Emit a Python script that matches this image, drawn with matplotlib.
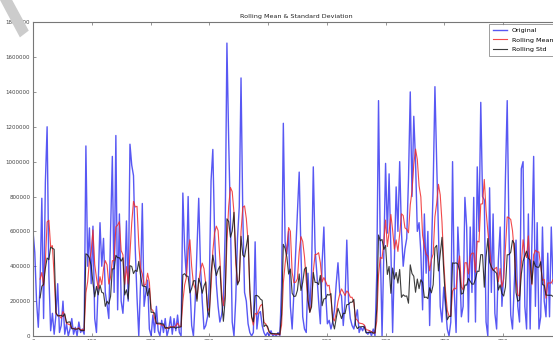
import numpy as np
import pandas as pd
import matplotlib
matplotlib.use("Agg")
import matplotlib.pyplot as plt
from matplotlib.patches import Polygon

# Original series (values in thousands), one value every 3 index units
original_k = [
    600, 480, 200, 50, 300, 790, 100, 880, 1200, 350,
    30, 130, 10, 120, 300, 20, 60, 200, 10, 70,
    0, 40, 100, 10, 50, 0, 80, 20, 40, 10,
    1090, 400, 620, 300, 630, 100, 20, 300, 650, 400,
    560, 250, 180, 100, 600, 1030, 250, 1150, 150, 700,
    200, 130, 300, 660, 200, 1100, 980, 920, 500, 220,
    0, 300, 760, 170, 250, 320, 40, 0, 120, 20,
    170, 30, 0, 90, 20, 100, 0, 40, 110, 10,
    100, 30, 120, 20, 0, 820, 500, 340, 800, 300,
    60, 0, 200, 500, 790, 400, 200, 40, 60, 110,
    300, 890, 1070, 590, 300, 170, 80, 120, 200, 600,
    1680, 1120, 660, 80, 0, 210, 560, 740, 1480, 700,
    250, 200, 70, 20, 0, 20, 540, 40, 130, 140,
    60, 20, 0, 20, 0, 30, 0, 10, 0, 20,
    0, 280, 1220, 540, 470, 600, 170, 40, 250, 480,
    700, 940, 480, 110, 40, 20, 360, 150, 360, 970,
    500, 360, 200, 70, 420, 625, 250, 70, 90, 40,
    80, 150, 300, 420, 250, 230, 60, 200, 550, 200,
    100, 60, 40, 100, 150, 20, 50, 30, 60, 20,
    10, 30, 0, 40, 0, 360, 1350, 510, 0, 475,
    990, 590, 930, 500, 20, 450, 855, 600, 1000, 600,
    400, 500, 560, 900, 1400, 800, 1260, 1000, 600, 650,
    480, 150, 700, 360, 600, 60, 475, 855, 1430, 990,
    600, 170, 80, 280, 170, 40, 0, 80, 1000, 250,
    20, 625, 400, 110, 170, 795, 625, 80, 625, 250,
    795, 80, 970, 600, 1340, 800, 780, 80, 0, 850,
    250, 700, 130, 40, 440, 625, 170, 360, 910, 1350,
    600, 120, 40, 300, 550, 170, 80, 960, 1000, 170,
    40, 700, 40, 520, 1030, 170, 650, 40, 110, 625,
    200, 110, 475, 110, 625, 300,
]
index_step = 3
rolling_window = 5

y_ticks = [0, 200000, 400000, 600000, 800000, 1000000, 1200000, 1400000, 1600000, 1800000]
x_ticks = [0, 100, 200, 300, 400, 500, 600, 700, 800]
title = "Rolling Mean & Standard Deviation"
labels = ["Original", "Rolling Mean", "Rolling Std"]

values = pd.Series(np.array(original_k, dtype=float) * 1000.0,
                   index=np.arange(len(original_k)) * index_step)
rol_mean = values.rolling(window=rolling_window).mean()
rol_std = values.rolling(window=rolling_window).std()

fig = plt.figure(figsize=(5.53, 3.40), dpi=100)
ax = fig.add_axes([0.0597, 0.0118, 0.951, 0.923])

ax.plot(values.index, values.values, color="#2020f0", alpha=0.75, lw=1.0, label=labels[0])
ax.plot(rol_mean.index, rol_mean.values, color="#f02a2a", alpha=0.85, lw=0.8, label=labels[1])
ax.plot(rol_std.index, rol_std.values, color="#1a1a1a", alpha=0.85, lw=0.8, label=labels[2])

ax.set_xlim(0, 895)
ax.set_ylim(0, 1800000)
ax.set_yticks(y_ticks)
ax.set_yticklabels([str(v) for v in y_ticks])
ax.set_xticks(x_ticks)
ax.set_xticklabels([str(v) for v in x_ticks])
ax.tick_params(direction="in", length=2.5, width=0.4, labelsize=4, pad=2,
               colors="#444444", top=True, right=True)
for s in ax.spines.values():
    s.set_linewidth(0.8)
    s.set_color("#777777")
ax.set_title(title, fontsize=4.6, pad=3, color="#222222")

leg = ax.legend(loc="upper right", fontsize=4.6, frameon=True, fancybox=False,
                borderpad=0.6, handlelength=2.2, labelspacing=0.6,
                borderaxespad=0.3)
leg.get_frame().set_edgecolor("#555555")
leg.get_frame().set_linewidth(0.5)

# grey corner ribbon in the top-left of the picture
ribbon = Polygon([[0.0, 1.0], [0.022, 1.0], [0.052, 0.91], [0.036, 0.89]],
                 closed=True, transform=fig.transFigure, facecolor="#cccccc",
                 edgecolor="none", zorder=10)
fig.patches.append(ribbon)

fig.savefig("out.png", dpi=100)
